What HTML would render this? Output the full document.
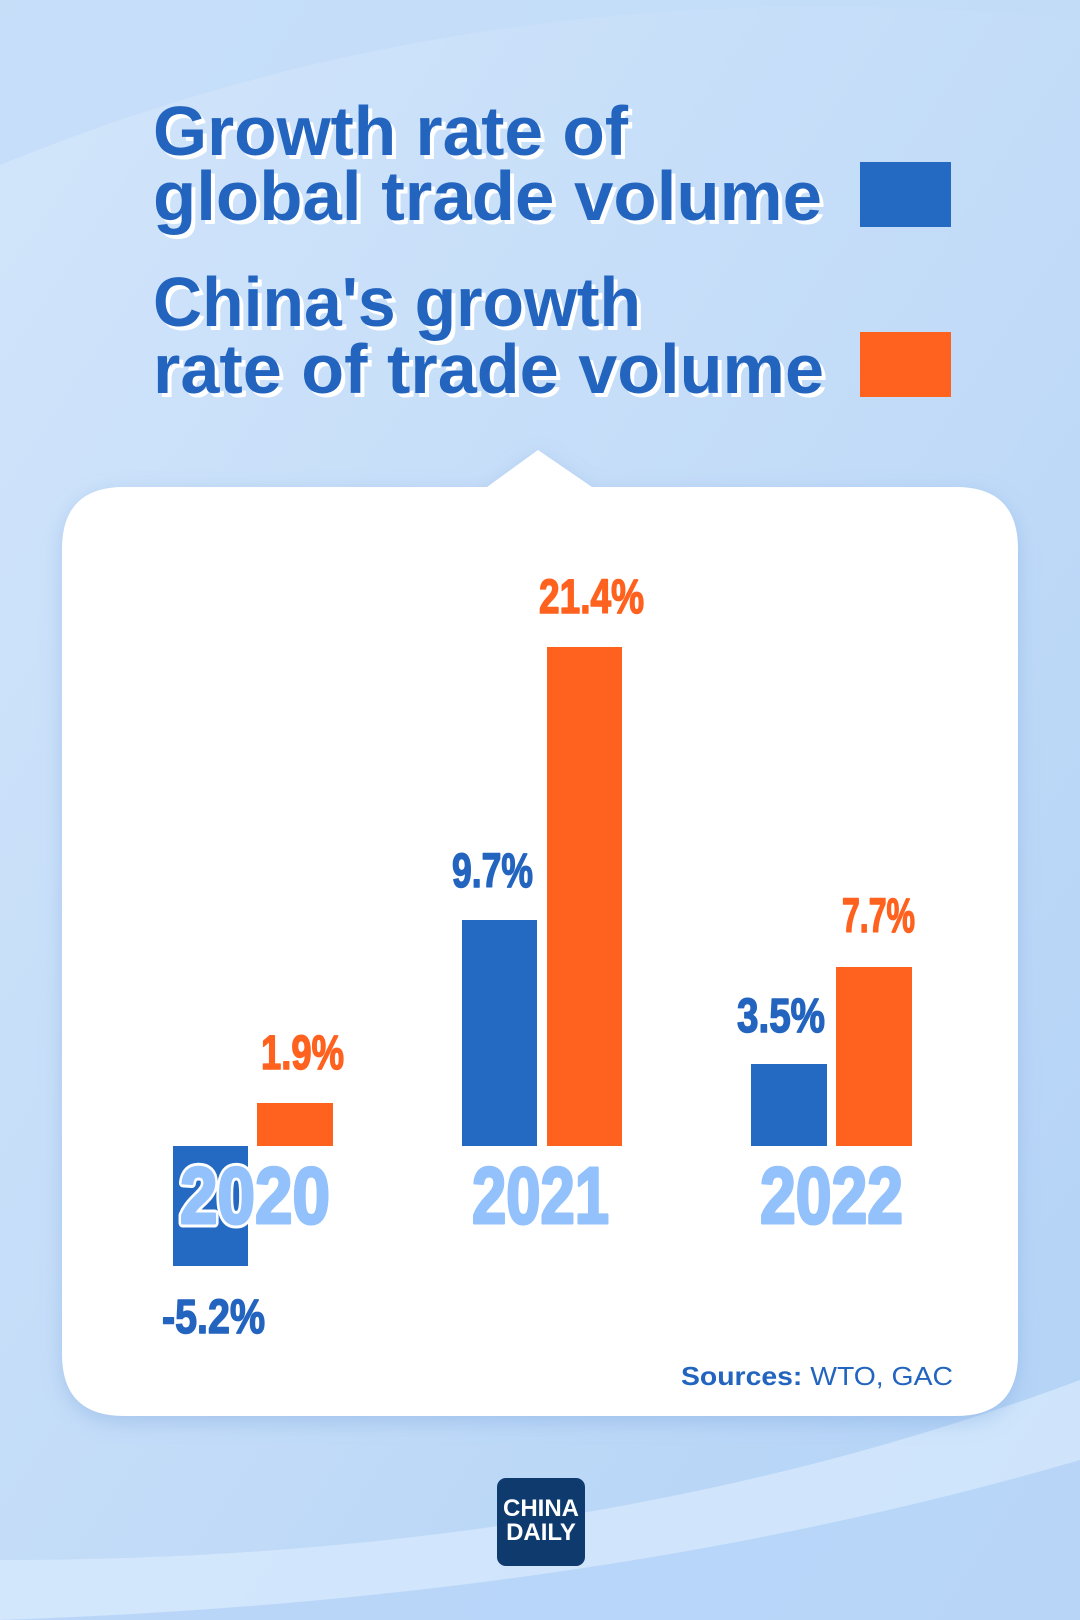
<!DOCTYPE html>
<html><head><meta charset="utf-8"><style>
html,body{margin:0;padding:0;width:1080px;height:1620px;overflow:hidden}
svg{display:block}
</style></head><body>
<svg width="1080" height="1620" viewBox="0 0 1080 1620" xmlns="http://www.w3.org/2000/svg">
<defs>
<linearGradient id="bg" x1="0" y1="0" x2="1" y2="1">
<stop offset="0" stop-color="#d2e5fb"/><stop offset="0.5" stop-color="#c3dcf8"/><stop offset="1" stop-color="#b2d2f6"/>
</linearGradient>
<filter id="sh" x="-10%" y="-10%" width="120%" height="120%"><feDropShadow dx="0" dy="6" stdDeviation="10" flood-color="#6f9bd6" flood-opacity="0.35"/></filter>
</defs>
<rect width="1080" height="1620" fill="url(#bg)"/>
<path d="M0 165 Q500 -40 1080 20 L1080 0 L0 0Z" fill="#c2dbf8" opacity="0.7"/>
<path d="M0 1620 L0 1560 Q600 1560 1080 1380 L1080 1620Z" fill="#d6e8fc" opacity="0.8"/>
<path d="M0 1620 Q600 1600 1080 1460 L1080 1620Z" fill="#a9ccf7" opacity="0.6"/>
<g font-family="Liberation Sans, sans-serif" font-weight="bold" font-size="70">
<g fill="#ffffff" transform="translate(4,4)">
<text x="153" y="155" textLength="475" lengthAdjust="spacingAndGlyphs">Growth rate of</text>
<text x="153" y="220" textLength="669" lengthAdjust="spacingAndGlyphs">global trade volume</text>
<text x="153" y="326" textLength="488" lengthAdjust="spacingAndGlyphs">China's growth</text>
<text x="153" y="393" textLength="671" lengthAdjust="spacingAndGlyphs">rate of trade volume</text>
</g>
<g fill="#2364bf">
<text x="153" y="155" textLength="475" lengthAdjust="spacingAndGlyphs">Growth rate of</text>
<text x="153" y="220" textLength="669" lengthAdjust="spacingAndGlyphs">global trade volume</text>
<text x="153" y="326" textLength="488" lengthAdjust="spacingAndGlyphs">China's growth</text>
<text x="153" y="393" textLength="671" lengthAdjust="spacingAndGlyphs">rate of trade volume</text>
</g>
</g>
<rect x="860" y="162" width="91" height="65" fill="#2469c2"/>
<rect x="860" y="332" width="91" height="65" fill="#ff611e"/>
<g filter="url(#sh)">
<path d="M124 487 L487 487 L538 450 L592 487 L956 487 Q1018 487 1018 549 L1018 1354 Q1018 1416 956 1416 L124 1416 Q62 1416 62 1354 L62 549 Q62 487 124 487Z" fill="#ffffff"/>
</g>
<g>
<rect x="173" y="1146" width="75" height="120" fill="#2469c2"/>
<rect x="257" y="1103" width="76" height="43" fill="#ff611e"/>
<rect x="462" y="920" width="75" height="226" fill="#2469c2"/>
<rect x="547" y="647" width="75" height="499" fill="#ff611e"/>
<rect x="751" y="1064" width="76" height="82" fill="#2469c2"/>
<rect x="836" y="967" width="76" height="179" fill="#ff611e"/>
</g>
<g font-family="Liberation Sans Narrow, Liberation Sans, sans-serif" font-weight="bold" font-size="80">
<g fill="#ffffff" stroke="#ffffff" stroke-width="9" stroke-linejoin="round">
<text x="180" y="1223" textLength="150" lengthAdjust="spacingAndGlyphs">2020</text>
</g>
<g fill="#93c1fb" stroke="#93c1fb" stroke-width="3" stroke-linejoin="round">
<text x="180" y="1223" textLength="150" lengthAdjust="spacingAndGlyphs">2020</text>
<text x="472" y="1223" textLength="137" lengthAdjust="spacingAndGlyphs">2021</text>
<text x="760" y="1223" textLength="143" lengthAdjust="spacingAndGlyphs">2022</text>
</g>
</g>
<g font-family="Liberation Sans Narrow, Liberation Sans, sans-serif" font-weight="bold" font-size="48" stroke-width="1.5" stroke-linejoin="round">
<text x="539" y="613" fill="#ff611e" stroke="#ff611e" textLength="105" lengthAdjust="spacingAndGlyphs">21.4%</text>
<text x="452" y="887" fill="#2364bf" stroke="#2364bf" textLength="81" lengthAdjust="spacingAndGlyphs">9.7%</text>
<text x="842" y="932" fill="#ff611e" stroke="#ff611e" textLength="73" lengthAdjust="spacingAndGlyphs">7.7%</text>
<text x="737" y="1032" fill="#2364bf" stroke="#2364bf" textLength="88" lengthAdjust="spacingAndGlyphs">3.5%</text>
<text x="261" y="1069" fill="#ff611e" stroke="#ff611e" textLength="83" lengthAdjust="spacingAndGlyphs">1.9%</text>
<text x="162" y="1333" fill="#2364bf" stroke="#2364bf" textLength="103" lengthAdjust="spacingAndGlyphs">-5.2%</text>
</g>
<text x="681" y="1385" font-family="Liberation Sans, sans-serif" font-size="26" fill="#2364bf" textLength="272" lengthAdjust="spacingAndGlyphs"><tspan font-weight="bold">Sources:</tspan> WTO, GAC</text>
<rect x="497" y="1478" width="88" height="88" rx="9" fill="#0e3a6e"/>
<g font-family="Liberation Sans Narrow, Liberation Sans, sans-serif" font-weight="bold" font-size="24" fill="#ffffff" text-anchor="middle">
<text x="541" y="1516">CHINA</text>
<text x="541" y="1540">DAILY</text>
</g>
</svg>
</body></html>
